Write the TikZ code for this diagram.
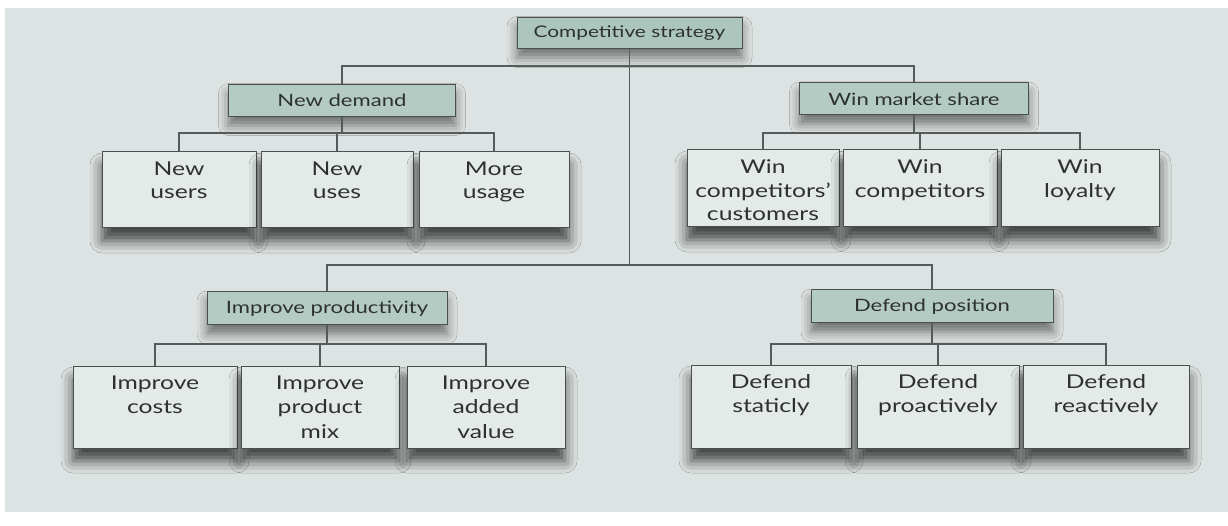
\documentclass[tikz,border=0pt]{standalone}
\usepackage{fontspec}
\setmainfont{Lato}[FakeStretch=1.3]
\usetikzlibrary{shadows.blur}
\definecolor{bg}{HTML}{DDE3E2}
\definecolor{headfill}{HTML}{ACC6BE}
\definecolor{leaffill}{HTML}{E3EAE7}
\definecolor{boxline}{HTML}{4A5050}
\definecolor{linec}{HTML}{555B5B}
\definecolor{txt}{HTML}{2E3131}
\begin{document}
\begin{tikzpicture}[x=1pt,y=-1pt,
  conn/.style={draw=linec, line width=1.1pt},
  shad/.style={blur shadow={shadow xshift=0pt, shadow yshift=-9pt, shadow blur radius=10pt, shadow opacity=50}},
  rootbox/.style={shad, draw=boxline, fill=headfill, line width=1pt, inner sep=0pt,
    font=\fontsize{16}{19}\selectfont, text=txt},
  headbox/.style={shad, draw=boxline, fill=headfill!85!leaffill, line width=1pt, inner sep=0pt,
    font=\fontsize{17}{20}\selectfont, text=txt},
  leafbox/.style={blur shadow={shadow xshift=0pt, shadow yshift=-13pt, shadow blur radius=12pt, shadow opacity=70},
    draw=boxline, fill=leaffill, line width=1pt, inner sep=0pt},
  leaftext/.style={anchor=north, yshift=-10pt, inner sep=0pt, align=center, text=txt,
    font=\fontsize{19}{23.5}\selectfont}
]
\fill[white] (0,0) rectangle (1228,526);
\fill[bg] (5,8) rectangle (1228,512);

\coordinate (b1) at (0,66);
\coordinate (b2) at (0,265);
\coordinate (b3) at (0,133);
\coordinate (b4) at (0,344);

\node[rootbox, minimum width=225pt, minimum height=31pt] (cs) at (629.5,33) {Competitive strategy};
\node[headbox, minimum width=227pt, minimum height=32pt] (nd) at (342,100.5) {New demand};
\node[headbox, minimum width=229pt, minimum height=32pt] (wm) at (914,99) {Win market share};
\node[headbox, minimum width=240pt, minimum height=33pt] (ip) at (327,308.5) {Improve productivity};
\node[headbox, minimum width=242pt, minimum height=33pt] (dp) at (932,306.5) {Defend position};

\draw[conn] (cs.south) -- (cs.south |- b2);
\draw[conn] (cs.south |- b1) -| (nd.north);
\draw[conn] (cs.south |- b1) -| (wm.north);
\draw[conn] (cs.south |- b2) -| (ip.north);
\draw[conn] (cs.south |- b2) -| (dp.north);

% leaves
\node[leafbox, minimum width=154pt, minimum height=76pt,
  label={[leaftext]north:{New\\users}}] (nu) at (179,190) {};
\node[leafbox, minimum width=152pt, minimum height=76pt,
  label={[leaftext]north:{New\\uses}}] (nus) at (337,190) {};
\node[leafbox, minimum width=150pt, minimum height=76pt,
  label={[leaftext]north:{More\\usage}}] (mu) at (494,190) {};

\node[leafbox, minimum width=152pt, minimum height=77pt,
  label={[leaftext]north:{Win\\competitors'\\customers}}] (wc) at (763,188.5) {};
\node[leafbox, minimum width=154pt, minimum height=77pt,
  label={[leaftext]north:{Win\\competitors}}] (wco) at (920,188.5) {};
\node[leafbox, minimum width=158pt, minimum height=77pt,
  label={[leaftext]north:{Win\\loyalty}}] (wl) at (1080,188.5) {};

\node[leafbox, minimum width=164pt, minimum height=82pt,
  label={[leaftext, font=\fontsize{19}{24.5}\selectfont]north:{Improve\\costs}}] (ic) at (155,407) {};
\node[leafbox, minimum width=158pt, minimum height=82pt,
  label={[leaftext, font=\fontsize{19}{24.5}\selectfont]north:{Improve\\product\\mix}}] (im) at (320,407) {};
\node[leafbox, minimum width=158pt, minimum height=82pt,
  label={[leaftext, font=\fontsize{19}{24.5}\selectfont]north:{Improve\\added\\value}}] (iv) at (486,407) {};

\node[leafbox, minimum width=160pt, minimum height=83pt,
  label={[leaftext]north:{Defend\\staticly}}] (ds) at (771,406.5) {};
\node[leafbox, minimum width=162pt, minimum height=83pt,
  label={[leaftext]north:{Defend\\proactively}}] (dpr) at (938,406.5) {};
\node[leafbox, minimum width=166pt, minimum height=83pt,
  label={[leaftext]north:{Defend\\reactively}}] (dre) at (1106,406.5) {};

% child connectors
\draw[conn] (nd.south) -- (nd.south |- b3);
\draw[conn] (nd.south |- b3) -| (nu.north);
\draw[conn] (nd.south |- b3) -| (mu.north);
\draw[conn] (nd.south |- b3) -| (nus.north);

\draw[conn] (wm.south) -- (wm.south |- b3);
\draw[conn] (wm.south |- b3) -| (wc.north);
\draw[conn] (wm.south |- b3) -| (wl.north);
\draw[conn] (wm.south |- b3) -| (wco.north);

\draw[conn] (ip.south) -- (ip.south |- b4);
\draw[conn] (ip.south |- b4) -| (ic.north);
\draw[conn] (ip.south |- b4) -| (iv.north);
\draw[conn] (ip.south |- b4) -| (im.north);

\draw[conn] (dp.south) -- (dp.south |- b4);
\draw[conn] (dp.south |- b4) -| (ds.north);
\draw[conn] (dp.south |- b4) -| (dre.north);
\draw[conn] (dp.south |- b4) -| (dpr.north);
\end{tikzpicture}
\end{document}
